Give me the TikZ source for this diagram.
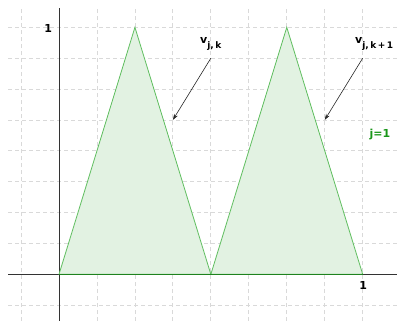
\documentclass[tikz,border=0pt]{standalone}
\usepackage{fontspec}
\setmainfont{DejaVu Sans}
\usetikzlibrary{arrows.meta}
\definecolor{tristroke}{RGB}{95,190,95}
\definecolor{trifill}{RGB}{226,242,226}
\definecolor{basegreen}{RGB}{30,130,30}
\definecolor{jgreen}{RGB}{25,150,25}
\begin{document}
\begin{tikzpicture}[x=303.7pt,y=247pt,
  gridline/.style={draw=black!15, dash pattern=on 4pt off 3pt, line width=0.8pt},
  axisline/.style={draw=black!80, line width=0.9pt},
  tri/.style={draw=tristroke, fill=trifill, line width=0.8pt, line join=miter},
  baseedge/.style={draw=basegreen, line width=1.1pt},
  lbl/.style={font=\bfseries\fontsize{11}{13}\selectfont, inner sep=0pt},
  pointer/.style={draw=black!85, line width=0.6pt, -{Stealth[length=6pt,width=4pt]}}]
\useasboundingbox (-0.19427,-0.18907) rectangle (1.11294,1.11053);
% grid
\foreach \i in {-1,...,8} \draw[gridline] (\i/8,-0.19) -- (\i/8,1.0781);
\foreach \j in {-1,...,8} \draw[gridline] (-0.1679,\j/8) -- (1.113,\j/8);
% axes
\draw[axisline] (-0.1679,0) -- (1.113,0);
\draw[axisline] (0,-0.19) -- (0,1.0781);
% triangles
\coordinate (p0) at (0,0);
\coordinate (p1) at (0.25,1);
\coordinate (p2) at (0.5,0);
\coordinate (p3) at (0.75,1);
\coordinate (p4) at (1,0);
\draw[tri] (p0) -- (p1) -- (p2) -- cycle;
\draw[tri] (p2) -- (p3) -- (p4) -- cycle;
\draw[baseedge] (p0) -- (p4);
% labels
\node[lbl] (ylab) at (-0.0352,0.997) {1};
\node[lbl] (xlab) at (1.002,-0.046) {1};
\node[lbl, anchor=base west] (vk) at (0.4643,0.9324) {v\raisebox{-4.5pt}{\fontsize{9}{10}\selectfont j,\,k}};
\node[lbl, anchor=base west] (vk1) at (0.9747,0.9324) {v\raisebox{-4.5pt}{\fontsize{9}{10}\selectfont j,\,k\,+\,1}};
\node[lbl, text=jgreen] (jlab) at (1.057,0.564) {j=1};
% arrows
\coordinate (a1s) at (0.5,0.875);
\coordinate (a1e) at (0.375,0.625);
\coordinate (a2s) at (1.0,0.875);
\coordinate (a2e) at (0.875,0.625);
\draw[pointer] (a1s) -- (a1e);
\draw[pointer] (a2s) -- (a2e);
\end{tikzpicture}
\end{document}
